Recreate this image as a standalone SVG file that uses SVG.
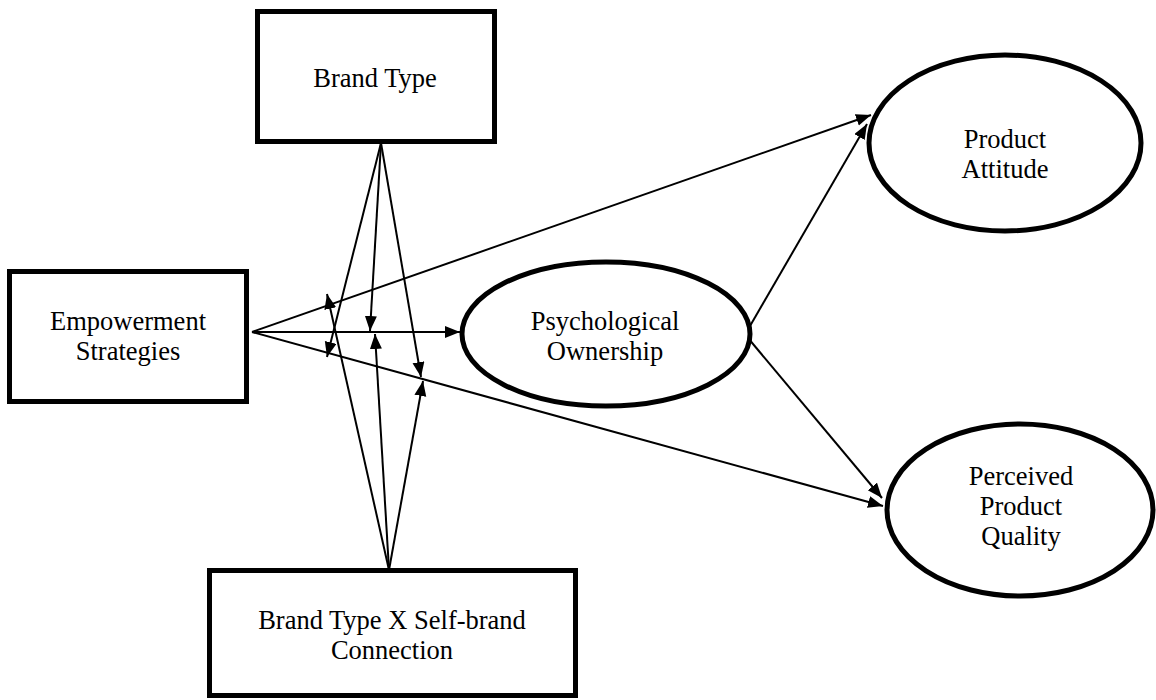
<svg xmlns="http://www.w3.org/2000/svg" width="1156" height="700" viewBox="0 0 1156 700">
<defs>
<style>
.box{fill:#fff;stroke:#000;stroke-width:5}
.lbl{font-family:"Liberation Serif","Times New Roman",serif;font-size:26.5px;fill:#000;text-anchor:middle}
.ln{stroke:#000;stroke-width:2;fill:none;marker-end:url(#ah)}
</style>
<marker id="ah" markerUnits="userSpaceOnUse" markerWidth="16" markerHeight="13" refX="15" refY="6" orient="auto">
<path d="M0,0 L15,6 L0,12 z" fill="#000"/>
</marker>
</defs>
<rect width="1156" height="700" fill="#fff"/>
<g id="connectors">
<line class="ln" x1="252" y1="332" x2="871" y2="115"/>
<line class="ln" x1="252" y1="332" x2="460" y2="332"/>
<line class="ln" x1="252" y1="332" x2="883" y2="506"/>
<line class="ln" x1="750" y1="326" x2="867" y2="124"/>
<line class="ln" x1="748" y1="338" x2="882" y2="498"/>
<line class="ln" x1="381" y1="143" x2="327" y2="357"/>
<line class="ln" x1="381" y1="143" x2="370" y2="331"/>
<line class="ln" x1="381" y1="143" x2="421" y2="377"/>
<line class="ln" x1="389" y1="570" x2="327" y2="294"/>
<line class="ln" x1="389" y1="570" x2="375" y2="334"/>
<line class="ln" x1="389" y1="570" x2="423" y2="381"/>
</g>
<g id="brand-type">
<rect class="box" x="257.5" y="11.5" width="237" height="130"/>
<text class="lbl" x="375" y="87">Brand Type</text>
</g>
<g id="empowerment">
<rect class="box" x="9.5" y="271.5" width="237" height="130"/>
<text class="lbl" x="128" y="330">Empowerment</text>
<text class="lbl" x="128" y="360">Strategies</text>
</g>
<g id="psych-ownership">
<ellipse class="box" cx="606" cy="334" rx="144" ry="72"/>
<text class="lbl" x="605" y="330">Psychological</text>
<text class="lbl" x="605" y="360">Ownership</text>
</g>
<g id="product-attitude">
<ellipse class="box" cx="1005" cy="143" rx="136" ry="88"/>
<text class="lbl" x="1005" y="148">Product</text>
<text class="lbl" x="1005" y="178">Attitude</text>
</g>
<g id="perceived-quality">
<ellipse class="box" cx="1020" cy="510" rx="133" ry="86"/>
<text class="lbl" x="1021" y="485">Perceived</text>
<text class="lbl" x="1021" y="515">Product</text>
<text class="lbl" x="1021" y="545">Quality</text>
</g>
<g id="interaction">
<rect class="box" x="209.5" y="570.5" width="366" height="125"/>
<text class="lbl" x="392" y="629">Brand Type X Self-brand</text>
<text class="lbl" x="392" y="659">Connection</text>
</g>
</svg>
